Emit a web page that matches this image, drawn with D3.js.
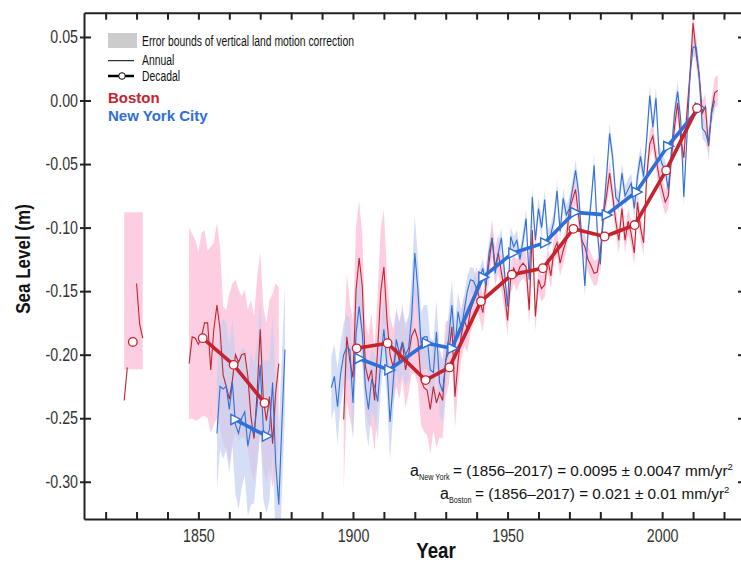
<!DOCTYPE html>
<html>
<head>
<meta charset="utf-8">
<script src="https://cdn.jsdelivr.net/npm/d3@7"></script>
<style>
  body { margin: 0; background: #fff; }
  svg { display: block; font-family: "Liberation Sans", Arial, sans-serif; }
</style>
</head>
<body>
<svg id="chart" width="741" height="562"></svg>
<script>
/* -------------------------------------------------------------------------- */
// data (sea level in m)
const xTicks = d3.range(1820, 2021, 10);
const xLabels = [1850, 1900, 1950, 2000];
const yTicks = [-0.30, -0.25, -0.20, -0.15, -0.10, -0.05, 0.00, 0.05];

// Boston annual, three stretches
const bostonStartA = 1826;
const bostonA = [-0.236, -0.210, null, null, -0.144, -0.176, -0.187];
const bostonBandAHi = [-0.088, -0.088, -0.088, -0.088, -0.088, -0.088, -0.088];
const bostonBandALo = [-0.2115, -0.2115, -0.2115, -0.2115, -0.2115, -0.2115, -0.2115];

const bostonStartB = 1847;
const bostonB = [
  -0.207, -0.186, -0.187, -0.192, -0.186, -0.175, -0.175, -0.212, -0.180, -0.161,
  -0.180, -0.216, -0.225, -0.235, -0.220, -0.200, -0.206, -0.200, -0.199, -0.217,
  -0.249, -0.266, -0.230, -0.180, -0.235, -0.252, -0.233, -0.270, -0.230, -0.207];
const bostonBandBHi = [
  -0.100, -0.105, -0.110, -0.119, -0.104, -0.102, -0.118, -0.115, -0.112, -0.096,
  -0.115, -0.162, -0.165, -0.152, -0.144, -0.141, -0.149, -0.154, -0.149, -0.165,
  -0.157, -0.170, -0.139, -0.119, -0.162, -0.175, -0.157, -0.152, -0.144, -0.147];
const bostonBandBLo = [
  -0.251, -0.250, -0.252, -0.251, -0.249, -0.248, -0.250, -0.262, -0.255, -0.250,
  -0.258, -0.270, -0.275, -0.285, -0.270, -0.262, -0.268, -0.265, -0.266, -0.275,
  -0.292, -0.300, -0.285, -0.262, -0.290, -0.300, -0.288, -0.305, -0.290, -0.270];

const bostonStartC = 1897;
const bostonC = [
                                                  -0.251, -0.186, -0.205,
  -0.218, -0.149, -0.124, -0.146, -0.209, -0.220, -0.212, -0.236, -0.195, -0.150,
  -0.131, -0.173, -0.200, -0.210, -0.195, -0.205, -0.190, -0.212, -0.200, -0.185,
  -0.180, -0.188, -0.220, -0.226, -0.228, -0.243, -0.225, -0.238, -0.230, -0.236,
  -0.204, -0.198, -0.178, -0.233, -0.205, -0.185, -0.173, -0.180, -0.165, -0.158,
  -0.146, -0.157, -0.167, -0.145, -0.128, -0.108, -0.131, -0.120, -0.135, -0.150,
  -0.173, -0.140, -0.132, -0.138, -0.131, -0.128, -0.131, -0.165, -0.102, -0.170,
  -0.141, -0.148, -0.145, -0.125, -0.138, -0.118, -0.112, -0.128, -0.118, -0.110,
  -0.086, -0.078, -0.070, -0.091, -0.110, -0.115, -0.125, -0.130, -0.136, -0.135,
  -0.120, -0.090, -0.075, -0.057, -0.075, -0.095, -0.110, -0.085, -0.110, -0.095,
  -0.105, -0.120, -0.080, -0.100, -0.112, -0.060, -0.034, -0.028, -0.045, -0.060,
  -0.070, -0.080, -0.075, -0.045, -0.021, -0.002, -0.030, -0.045, -0.010, 0.020,
  0.061, 0.037, 0.019, -0.010, -0.005, -0.036, -0.008, 0.006, 0.008];
const bostonErrC = [
                                                  0.055, 0.050, 0.045,
  0.045, 0.050, 0.045, 0.040, 0.035, 0.035, 0.045, 0.040, 0.045, 0.050,
  0.045, 0.035, 0.030, 0.030, 0.030, 0.030, 0.030, 0.030, 0.030, 0.030,
  0.035, 0.035, 0.035, 0.035, 0.035, 0.035, 0.035, 0.035, 0.035, 0.030,
  0.030, 0.025, 0.025, 0.025, 0.020, 0.020, 0.020, 0.018, 0.018, 0.018,
  0.015, 0.015, 0.015, 0.015, 0.015, 0.015, 0.015, 0.015, 0.015, 0.015,
  0.012, 0.012, 0.012, 0.012, 0.012, 0.012, 0.012, 0.012, 0.012, 0.012,
  0.010, 0.010, 0.010, 0.010, 0.010, 0.010, 0.010, 0.010, 0.010, 0.010,
  0.010, 0.010, 0.012, 0.010, 0.010, 0.010, 0.010, 0.010, 0.010, 0.010,
  0.010, 0.010, 0.010, 0.010, 0.010, 0.010, 0.010, 0.010, 0.010, 0.010,
  0.010, 0.010, 0.010, 0.010, 0.010, 0.010, 0.010, 0.010, 0.010, 0.010,
  0.010, 0.010, 0.010, 0.010, 0.010, 0.010, 0.010, 0.010, 0.010, 0.010,
  0.012, 0.010, 0.010, 0.010, 0.010, 0.012, 0.010, 0.012, 0.012];

// New York City annual, two stretches
const nycStartB = 1856;
const nycB = [
  -0.262, -0.225, -0.227, -0.225, -0.243, -0.222, -0.255, -0.262, -0.250, -0.245,
  -0.272, -0.258, -0.262, -0.240, -0.208, -0.259, -0.265, -0.259, -0.222, -0.285,
  -0.318, -0.255, -0.196];
const nycErrB = [
  0.045, 0.050, 0.055, 0.050, 0.050, 0.050, 0.055, 0.060, 0.055, 0.050,
  0.055, 0.060, 0.055, 0.050, 0.050, 0.055, 0.060, 0.055, 0.055, 0.060,
  0.060, 0.055, 0.050];

const nycStartC = 1893;
const nycC = [
                            -0.226, -0.217, -0.241, -0.215, -0.200, -0.194, -0.196,
  -0.238, -0.183, -0.162, -0.183, -0.225, -0.243, -0.220, -0.225, -0.237, -0.204,
  -0.180, -0.209, -0.253, -0.222, -0.188, -0.199, -0.190, -0.200, -0.195, -0.170,
  -0.120, -0.149, -0.191, -0.186, -0.186, -0.212, -0.214, -0.182, -0.222, -0.229,
  -0.205, -0.186, -0.161, -0.194, -0.166, -0.180, -0.165, -0.150, -0.141, -0.142,
  -0.148, -0.140, -0.132, -0.146, -0.120, -0.108, -0.136, -0.120, -0.108, -0.135,
  -0.162, -0.107, -0.115, -0.110, -0.125, -0.110, -0.093, -0.141, -0.076, -0.110,
  -0.085, -0.100, -0.078, -0.110, -0.105, -0.095, -0.071, -0.103, -0.077, -0.090,
  -0.085, -0.070, -0.055, -0.073, -0.110, -0.146, -0.104, -0.080, -0.051, -0.102,
  -0.129, -0.090, -0.060, -0.026, -0.045, -0.076, -0.080, -0.057, -0.075, -0.070,
  -0.065, -0.085, -0.060, -0.044, -0.060, -0.030, 0.004, -0.021, 0.002, -0.042,
  -0.050, -0.055, -0.070, -0.040, -0.010, 0.007, -0.015, -0.076, -0.030, 0.020,
  0.042, 0.042, 0.019, -0.022, -0.025, -0.034, -0.010, 0.000];
const nycErrC = [
                            0.025, 0.025, 0.030, 0.025, 0.025, 0.025, 0.025,
  0.030, 0.030, 0.030, 0.025, 0.030, 0.030, 0.025, 0.025, 0.030, 0.025,
  0.025, 0.025, 0.030, 0.025, 0.025, 0.025, 0.025, 0.025, 0.025, 0.030,
  0.030, 0.025, 0.025, 0.025, 0.025, 0.025, 0.025, 0.025, 0.025, 0.025,
  0.020, 0.020, 0.020, 0.020, 0.015, 0.015, 0.012, 0.012, 0.010, 0.010,
  0.008, 0.008, 0.008, 0.008, 0.008, 0.008, 0.008, 0.008, 0.008, 0.008,
  0.008, 0.008, 0.008, 0.008, 0.008, 0.008, 0.008, 0.008, 0.008, 0.008,
  0.008, 0.008, 0.008, 0.008, 0.008, 0.008, 0.008, 0.008, 0.008, 0.008,
  0.008, 0.008, 0.008, 0.008, 0.008, 0.008, 0.008, 0.008, 0.008, 0.008,
  0.008, 0.008, 0.008, 0.008, 0.008, 0.008, 0.008, 0.008, 0.008, 0.008,
  0.008, 0.008, 0.008, 0.008, 0.008, 0.008, 0.008, 0.008, 0.008, 0.008,
  0.008, 0.008, 0.008, 0.008, 0.008, 0.008, 0.008, 0.008, 0.008, 0.008,
  0.008, 0.008, 0.008, 0.008, 0.008, 0.008, 0.008, 0.008];

// decadal means
const bostonDecYears = [1828.8, 1851.4, 1861.4, 1871.4, 1901.2, 1911.2, 1923.5, 1931.2,
                        1941.4, 1951.4, 1961.4, 1971.3, 1981.4, 1991.1, 2001.3, 2011.3];
const bostonDecVals  = [-0.190, -0.187, -0.208, -0.238, -0.195, -0.191, -0.220, -0.210,
                        -0.158, -0.137, -0.132, -0.101, -0.107, -0.098, -0.055, -0.006];
const nycDecYears = [1861.8, 1872.0, 1901.9, 1911.6, 1923.7, 1932.0,
                     1942.0, 1951.7, 1962.0, 1971.7, 1981.9, 1991.6, 2001.8, 2012.0];
const nycDecVals  = [-0.251, -0.264, -0.203, -0.212, -0.191, -0.195,
                     -0.139, -0.120, -0.112, -0.088, -0.090, -0.072, -0.036, -0.006];

const annotNY = ['New York', '= (1856\u20132017) = 0.0095 \u00b1 0.0047 mm/yr'];
const annotBos = ['Boston', '= (1856\u20132017) = 0.021 \u00b1 0.01 mm/yr'];

/* -------------------------------------------------------------------------- */
const RED = '#c5232d';
const BLUE = '#2f6fd8';
const PINK = '#fdc6dc';
const LAVENDER = '#c3d0f1';
const AXIS = '#222';

const svg = d3.select('#chart');
const plotL = 84, plotR = 745, plotT = 12.7, plotB = 519;

const x = d3.scaleLinear().domain([1813, 2026.8]).range([plotL, plotR]);
const y = d3.scaleLinear().domain([-0.3293, 0.0691]).range([plotB, plotT]);

function series(start, vals) {
  return vals.map((v, i) => ({year: start + i, v: v}));
}
function condense(sel, k) {
  sel.each(function() {
    this.setAttribute('textLength', this.getComputedTextLength() * k);
    this.setAttribute('lengthAdjust', 'spacingAndGlyphs');
  });
}

svg.append('clipPath').attr('id', 'plotclip')
  .append('rect').attr('x', plotL).attr('y', plotT)
  .attr('width', plotR - plotL).attr('height', plotB - plotT);

const plot = svg.append('g').attr('clip-path', 'url(#plotclip)');

const band = d3.area()
  .defined(d => d.lo != null)
  .x(d => x(d.year)).y0(d => y(d.lo)).y1(d => y(d.hi));

const line = d3.line()
  .defined(d => d.v != null)
  .x(d => x(d.year)).y(d => y(d.v));

// --------------------------------------------------
// error bands
const bosBands = [
  bostonBandAHi.map((h, i) => ({year: bostonStartA + i, hi: h, lo: bostonBandALo[i]})),
  bostonBandBHi.map((h, i) => ({year: bostonStartB + i, hi: h, lo: bostonBandBLo[i]})),
  bostonC.map((v, i) => ({year: bostonStartC + i, hi: v + bostonErrC[i], lo: v - bostonErrC[i]}))
];
const nycBands = [
  nycB.map((v, i) => ({year: nycStartB + i, hi: v + nycErrB[i], lo: v - nycErrB[i]})),
  nycC.map((v, i) => ({year: nycStartC + i, hi: v + nycErrC[i], lo: v - nycErrC[i]}))
];

plot.selectAll('.bandbos').data(bosBands).enter().append('path')
  .attr('class', 'bandbos').attr('d', band)
  .attr('fill', PINK).attr('opacity', 0.85);

plot.selectAll('.bandnyc').data(nycBands).enter().append('path')
  .attr('class', 'bandnyc').attr('d', band)
  .attr('fill', LAVENDER).attr('opacity', 0.7);

// --------------------------------------------------
// annual lines
const bosAnnual = [series(bostonStartA, bostonA), series(bostonStartB, bostonB), series(bostonStartC, bostonC)];
const nycAnnual = [series(nycStartB, nycB), series(nycStartC, nycC)];

plot.selectAll('.annbos').data(bosAnnual).enter().append('path')
  .attr('class', 'annbos').attr('d', line)
  .attr('fill', 'none').attr('stroke', RED).attr('stroke-width', 1.1);

plot.selectAll('.annnyc').data(nycAnnual).enter().append('path')
  .attr('class', 'annnyc').attr('d', line)
  .attr('fill', 'none').attr('stroke', BLUE).attr('stroke-width', 1.1);

// --------------------------------------------------
// decadal lines, broken where a decade is missing
function decSegments(years, vals) {
  let segs = [], cur = [];
  years.forEach((yr, i) => {
    if (cur.length && yr - cur[cur.length - 1].year > 15) { segs.push(cur); cur = []; }
    cur.push({year: yr, v: vals[i]});
  });
  segs.push(cur);
  return segs;
}

plot.selectAll('.decnyc').data(decSegments(nycDecYears, nycDecVals)).enter().append('path')
  .attr('class', 'decnyc').attr('d', line)
  .attr('fill', 'none').attr('stroke', BLUE).attr('stroke-width', 3.6)
  .attr('stroke-linejoin', 'round');

plot.selectAll('.decbos').data(decSegments(bostonDecYears, bostonDecVals)).enter().append('path')
  .attr('class', 'decbos').attr('d', line)
  .attr('fill', 'none').attr('stroke', RED).attr('stroke-width', 3.6)
  .attr('stroke-linejoin', 'round');

plot.selectAll('.trinyc').data(nycDecYears).enter().append('path')
  .attr('class', 'trinyc')
  .attr('transform', (d, i) => `translate(${x(d)},${y(nycDecVals[i])})`)
  .attr('d', 'M-4,-5L6,0L-4,5Z')
  .attr('fill', '#fff').attr('stroke', BLUE).attr('stroke-width', 1.4);

plot.selectAll('.circbos').data(bostonDecYears).enter().append('circle')
  .attr('class', 'circbos')
  .attr('cx', d => x(d)).attr('cy', (d, i) => y(bostonDecVals[i])).attr('r', 4.3)
  .attr('fill', '#fff').attr('stroke', RED).attr('stroke-width', 1.3);

// --------------------------------------------------
// axes
const gx = svg.append('g').attr('transform', `translate(0,${plotB})`)
  .call(d3.axisBottom(x).tickValues(xTicks).tickSizeInner(-7).tickSizeOuter(0).tickPadding(10)
    .tickFormat(d => xLabels.includes(d) ? d : ''));
const gt = svg.append('g').attr('transform', `translate(0,${plotT})`)
  .call(d3.axisTop(x).tickValues(xTicks).tickSizeInner(-7).tickSizeOuter(0).tickFormat(''));
const gy = svg.append('g').attr('transform', `translate(${plotL},0)`)
  .call(d3.axisLeft(y).tickValues(yTicks).tickSizeInner(-7).tickSizeOuter(0).tickPadding(6)
    .tickFormat(d => d.toFixed(2)));
gy.selectAll('.tick').append('line').attr('x1', -4).attr('x2', 0).attr('stroke', AXIS).attr('stroke-width', 2);
const gr = svg.append('g').attr('transform', `translate(${plotR},0)`)
  .call(d3.axisRight(y).tickValues(yTicks).tickSizeInner(-7).tickSizeOuter(0).tickFormat(''));

[gx, gt, gy, gr].forEach(g => {
  g.selectAll('.domain').attr('stroke', AXIS).attr('stroke-width', 2);
  g.selectAll('.tick line').attr('stroke', AXIS).attr('stroke-width', 2);
});
gr.select('.domain').remove();

gx.selectAll('text').attr('font-size', 18).attr('fill', '#333')
  .attr('font-family', '"Liberation Sans", Arial, sans-serif');
gy.selectAll('text').attr('font-size', 18).attr('fill', '#333')
  .attr('font-family', '"Liberation Sans", Arial, sans-serif');
condense(gx.selectAll('text').filter(function() { return this.textContent !== ''; }), 0.79);
condense(gy.selectAll('text'), 0.79);

// axis titles
const ylab = svg.append('text')
  .attr('transform', 'translate(30,259) rotate(-90)')
  .attr('text-anchor', 'middle').attr('font-size', 20).attr('font-weight', 'bold')
  .attr('fill', '#111').text('Sea Level (m)');
condense(ylab, 0.85);

const xlab = svg.append('text')
  .attr('x', 436).attr('y', 558)
  .attr('text-anchor', 'middle').attr('font-size', 22).attr('font-weight', 'bold')
  .attr('fill', '#111').text('Year');
condense(xlab, 0.85);

// --------------------------------------------------
// legend
const lg = svg.append('g');
lg.append('rect').attr('x', 108).attr('y', 33).attr('width', 29).attr('height', 15).attr('fill', '#cccccc');
const t1 = lg.append('text').attr('x', 142).attr('y', 46).attr('font-size', 14).attr('fill', '#111')
  .text('Error bounds of vertical land motion correction');
lg.append('line').attr('x1', 108).attr('x2', 134).attr('y1', 60.7).attr('y2', 60.7)
  .attr('stroke', '#000').attr('stroke-width', 1);
const t2 = lg.append('text').attr('x', 142).attr('y', 65).attr('font-size', 14).attr('fill', '#111').text('Annual');
lg.append('line').attr('x1', 108).attr('x2', 134).attr('y1', 76).attr('y2', 76)
  .attr('stroke', '#000').attr('stroke-width', 2.5);
lg.append('circle').attr('cx', 122).attr('cy', 76).attr('r', 3.3)
  .attr('fill', '#fff').attr('stroke', '#000').attr('stroke-width', 1);
const t3 = lg.append('text').attr('x', 142).attr('y', 80.5).attr('font-size', 14).attr('fill', '#111').text('Decadal');
condense(t1, 0.74); condense(t2, 0.74); condense(t3, 0.74);

lg.append('text').attr('x', 108).attr('y', 102.7).attr('font-size', 15).attr('font-weight', 'bold')
  .attr('fill', RED).text('Boston');
lg.append('text').attr('x', 108).attr('y', 120.7).attr('font-size', 15).attr('font-weight', 'bold')
  .attr('fill', BLUE).text('New York City');

// --------------------------------------------------
// acceleration notes: "a", subscript, equation, superscript 2
function annot(ax, sx, mx, ypos, parts) {
  const t = svg.append('text').attr('y', ypos).attr('font-size', 16).attr('fill', '#111');
  t.append('tspan').attr('x', ax).text('a');
  const sub = t.append('tspan').attr('x', sx).attr('font-size', 8.5).attr('dy', 4).text(parts[0]);
  t.append('tspan').attr('x', mx).attr('dy', -4).attr('font-size', 15.3).text(parts[1]);
  t.append('tspan').attr('font-size', 9.5).attr('dy', -6).text('2');
  condense(sub, 0.85);
}
annot(410, 419, 453, 476, annotNY);
annot(440, 449, 475, 499, annotBos);
</script>
</body>
</html>
